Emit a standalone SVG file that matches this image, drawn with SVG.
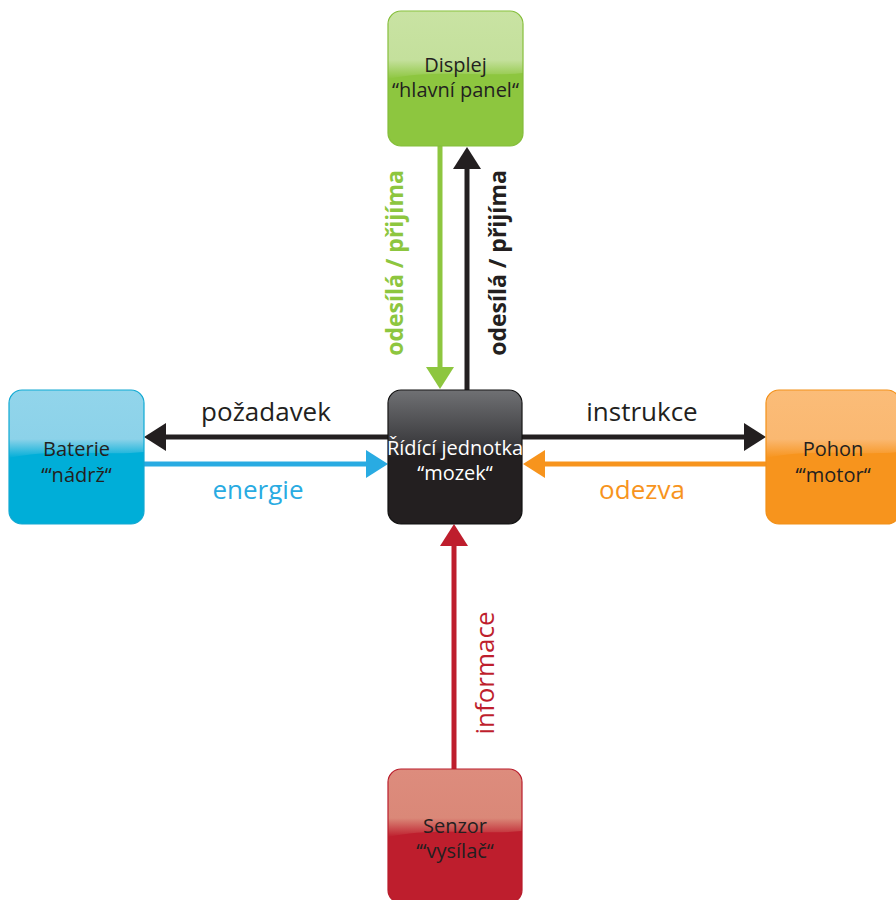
<svg xmlns="http://www.w3.org/2000/svg" width="896" height="900" viewBox="0 0 896 900">
<style>
.box{stroke-width:1.2}
.nt{font-family:"Open Sans","Liberation Sans",sans-serif;font-size:20px;fill:#231f20;text-anchor:middle}
.nt.w{fill:#ffffff}
.lb{font-family:"Open Sans","Liberation Sans",sans-serif;font-size:26px;text-anchor:middle}
.vb{font-family:"Open Sans","Liberation Sans",sans-serif;font-size:23px;font-weight:bold;text-anchor:middle}
.ln{fill:none;stroke-width:5}
</style>
<defs>
<linearGradient id="gG" x1="0" y1="0" x2="0" y2="1"><stop offset="0" stop-color="#c9e3a3"/><stop offset="0.72" stop-color="#c4e09c"/><stop offset="1" stop-color="#c4e09c" stop-opacity="0"/></linearGradient>
<linearGradient id="gK" x1="0" y1="0" x2="0" y2="1"><stop offset="0" stop-color="#6f7073"/><stop offset="0.75" stop-color="#3e3e41"/><stop offset="1" stop-color="#3e3e41" stop-opacity="0"/></linearGradient>
<linearGradient id="gB" x1="0" y1="0" x2="0" y2="1"><stop offset="0" stop-color="#92d5eb"/><stop offset="0.72" stop-color="#8cd2e9"/><stop offset="1" stop-color="#8cd2e9" stop-opacity="0"/></linearGradient>
<linearGradient id="gO" x1="0" y1="0" x2="0" y2="1"><stop offset="0" stop-color="#fbbc78"/><stop offset="0.72" stop-color="#fab871"/><stop offset="1" stop-color="#fab871" stop-opacity="0"/></linearGradient>
<linearGradient id="gR" x1="0" y1="0" x2="0" y2="1"><stop offset="0" stop-color="#dd8c7d"/><stop offset="0.72" stop-color="#da8878"/><stop offset="1" stop-color="#da8878" stop-opacity="0"/></linearGradient>
<marker id="aK" viewBox="0 0 22 28" refX="0" refY="14" markerWidth="22" markerHeight="28" markerUnits="userSpaceOnUse" orient="auto"><path d="M0,0 L22,14 L0,28 Z" fill="#231f20"/></marker>
<marker id="aG" viewBox="0 0 22 28" refX="0" refY="14" markerWidth="22" markerHeight="28" markerUnits="userSpaceOnUse" orient="auto"><path d="M0,0 L22,14 L0,28 Z" fill="#8dc63f"/></marker>
<marker id="aB" viewBox="0 0 22 28" refX="0" refY="14" markerWidth="22" markerHeight="28" markerUnits="userSpaceOnUse" orient="auto"><path d="M0,0 L22,14 L0,28 Z" fill="#29abe2"/></marker>
<marker id="aO" viewBox="0 0 22 28" refX="0" refY="14" markerWidth="22" markerHeight="28" markerUnits="userSpaceOnUse" orient="auto"><path d="M0,0 L22,14 L0,28 Z" fill="#f7941d"/></marker>
<marker id="aR" viewBox="0 0 22 28" refX="0" refY="14" markerWidth="22" markerHeight="28" markerUnits="userSpaceOnUse" orient="auto"><path d="M0,0 L22,14 L0,28 Z" fill="#be1e2d"/></marker>
</defs>
<rect width="896" height="900" fill="#ffffff"/>

<g id="connectors">
<path class="ln" stroke="#8dc63f" d="M440,146 V367" marker-end="url(#aG)"/>
<path class="ln" stroke="#231f20" d="M467,390 V169" marker-end="url(#aK)"/>
<path class="ln" stroke="#231f20" d="M388,437 H166" marker-end="url(#aK)"/>
<path class="ln" stroke="#29abe2" d="M144,464 H366" marker-end="url(#aB)"/>
<path class="ln" stroke="#231f20" d="M522,437 H744" marker-end="url(#aK)"/>
<path class="ln" stroke="#f7941d" d="M766,464 H545" marker-end="url(#aO)"/>
<path class="ln" stroke="#be1e2d" d="M454,769 V546" marker-end="url(#aR)"/>
<text class="vb" fill="#8dc63f" transform="translate(403,263) rotate(-90)">odesílá / přijíma</text>
<text class="vb" fill="#231f20" transform="translate(506,263) rotate(-90)">odesílá / přijíma</text>
<text class="lb" fill="#231f20" x="266" y="421">požadavek</text>
<text class="lb" fill="#29abe2" x="258" y="499">energie</text>
<text class="lb" fill="#231f20" x="642" y="421">instrukce</text>
<text class="lb" fill="#f7941d" x="642" y="499">odezva</text>
<text class="lb" fill="#be1e2d" transform="translate(494,673) rotate(-90)">informace</text>
</g>

<g id="displej" transform="translate(388,11)">
<rect class="box" x="0" y="0" width="135" height="135" rx="13" fill="#8dc63f" stroke="#84bd3a"/>
<path d="M0.6,13 A12.4,12.4 0 0 1 13,0.6 H122 A12.4,12.4 0 0 1 134.4,13 V62 C100,66 40,58 0.6,68 Z" fill="url(#gG)"/>
<text class="nt" x="67.5" y="61">Displej</text>
<text class="nt" x="67.5" y="86">“hlavní panel“</text>
</g>

<g id="ridici" transform="translate(388,390)">
<rect class="box" x="0" y="0" width="134" height="134" rx="13" fill="#231f20" stroke="#111111"/>
<path d="M0.6,13 A12.4,12.4 0 0 1 13,0.6 H121 A12.4,12.4 0 0 1 133.4,13 V62 C100,66 40,58 0.6,68 Z" fill="url(#gK)"/>
<text class="nt w" x="67" y="65">Řídící jednotka</text>
<text class="nt w" x="67" y="90">“mozek“</text>
</g>

<g id="baterie" transform="translate(9,390)">
<rect class="box" x="0" y="0" width="135" height="134" rx="13" fill="#00aed8" stroke="#12a8d2"/>
<path d="M0.6,13 A12.4,12.4 0 0 1 13,0.6 H122 A12.4,12.4 0 0 1 134.4,13 V62 C100,66 40,58 0.6,68 Z" fill="url(#gB)"/>
<text class="nt" x="67.5" y="66">Baterie</text>
<text class="nt" x="67.5" y="92">‘“nádrž“</text>
</g>

<g id="pohon" transform="translate(766,390)">
<rect class="box" x="0" y="0" width="134" height="134" rx="13" fill="#f7941d" stroke="#f29018"/>
<path d="M0.6,13 A12.4,12.4 0 0 1 13,0.6 H121 A12.4,12.4 0 0 1 133.4,13 V62 C100,66 40,58 0.6,68 Z" fill="url(#gO)"/>
<text class="nt" x="67" y="66">Pohon</text>
<text class="nt" x="67" y="92">‘“motor“</text>
</g>

<g id="senzor" transform="translate(388,769)">
<rect class="box" x="0" y="0" width="134" height="134" rx="13" fill="#be1e2d" stroke="#b81b2a"/>
<path d="M0.6,13 A12.4,12.4 0 0 1 13,0.6 H121 A12.4,12.4 0 0 1 133.4,13 V62 C100,66 40,58 0.6,68 Z" fill="url(#gR)"/>
<text class="nt" x="67" y="64">Senzor</text>
<text class="nt" x="67" y="89">‘“vysílač“</text>
</g>
</svg>
